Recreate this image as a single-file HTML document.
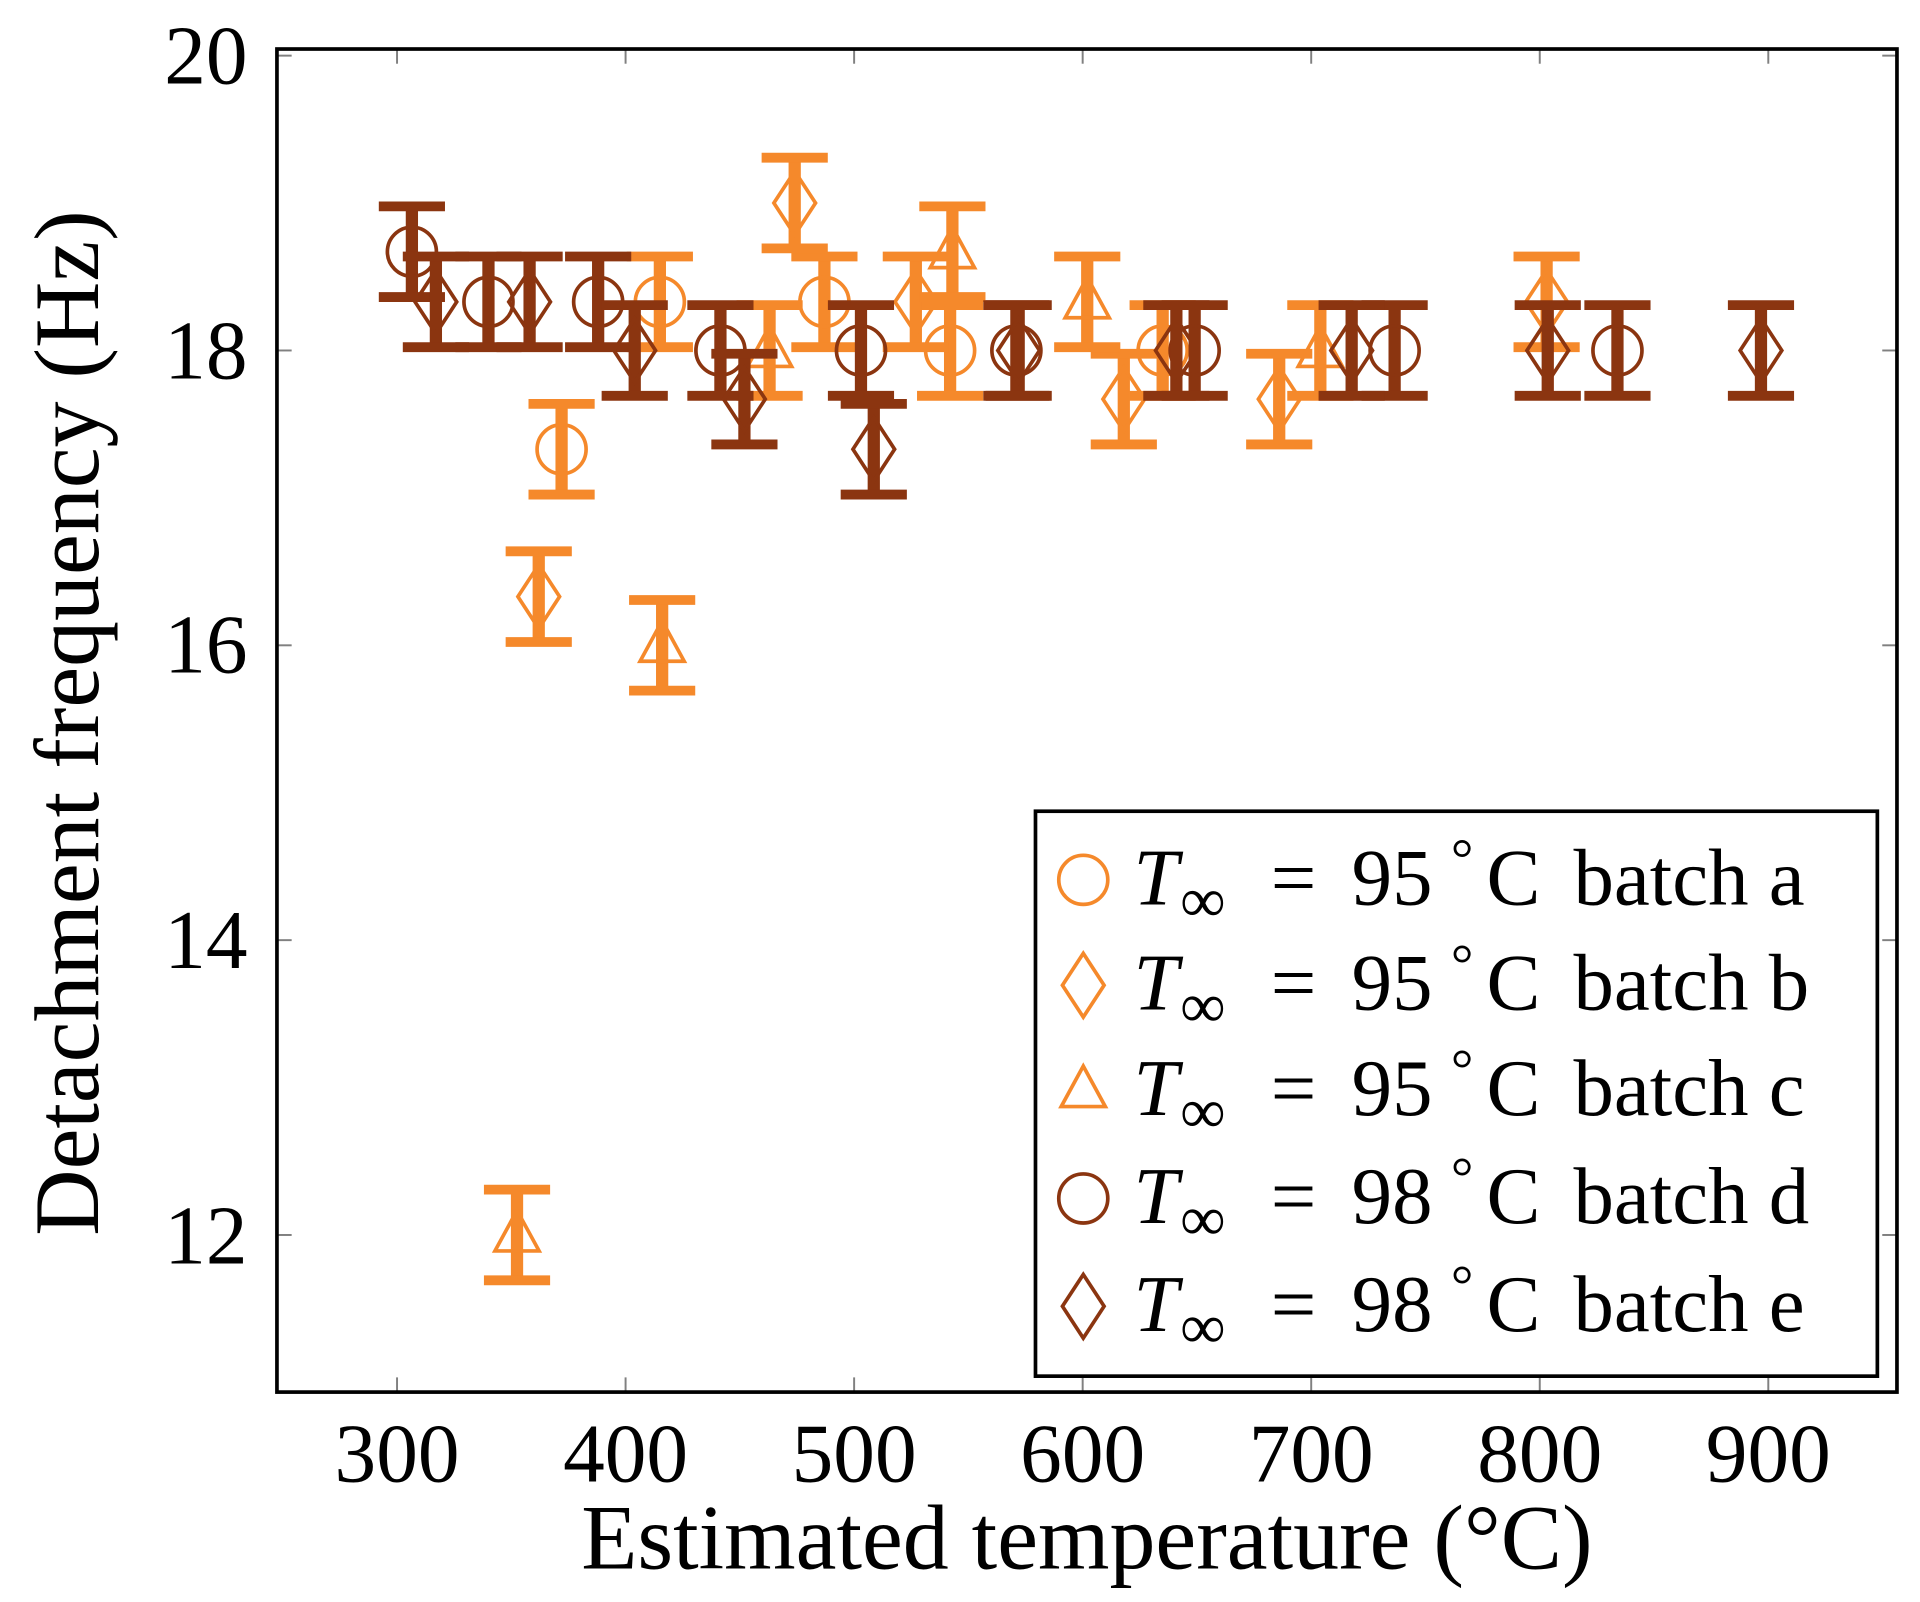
<!DOCTYPE html>
<html><head><meta charset="utf-8"><style>
html,body{margin:0;padding:0;background:#fff}
svg{display:block}
text{font-family:"Liberation Serif",serif;fill:#000}
</style></head><body>
<svg id="s" width="1920" height="1602" viewBox="0 0 1566.8 1307.3" preserveAspectRatio="none" xmlns="http://www.w3.org/2000/svg">
<rect x="0" y="0" width="1566.8" height="1307.3" fill="#fff"/>
<g stroke="#808080" stroke-width="1.6">
<line x1="324" y1="40" x2="324" y2="52"/><line x1="324" y1="1136" x2="324" y2="1124"/>
<line x1="510.5" y1="40" x2="510.5" y2="52"/><line x1="510.5" y1="1136" x2="510.5" y2="1124"/>
<line x1="697" y1="40" x2="697" y2="52"/><line x1="697" y1="1136" x2="697" y2="1124"/>
<line x1="883.5" y1="40" x2="883.5" y2="52"/><line x1="883.5" y1="1136" x2="883.5" y2="1124"/>
<line x1="1070" y1="40" x2="1070" y2="52"/><line x1="1070" y1="1136" x2="1070" y2="1124"/>
<line x1="1256.5" y1="40" x2="1256.5" y2="52"/><line x1="1256.5" y1="1136" x2="1256.5" y2="1124"/>
<line x1="1443" y1="40" x2="1443" y2="52"/><line x1="1443" y1="1136" x2="1443" y2="1124"/>
<line x1="226" y1="45.4" x2="238" y2="45.4"/><line x1="1548" y1="45.4" x2="1536" y2="45.4"/>
<line x1="226" y1="286" x2="238" y2="286"/><line x1="1548" y1="286" x2="1536" y2="286"/>
<line x1="226" y1="526.6" x2="238" y2="526.6"/><line x1="1548" y1="526.6" x2="1536" y2="526.6"/>
<line x1="226" y1="767.2" x2="238" y2="767.2"/><line x1="1548" y1="767.2" x2="1536" y2="767.2"/>
<line x1="226" y1="1007.8" x2="238" y2="1007.8"/><line x1="1548" y1="1007.8" x2="1536" y2="1007.8"/>
</g>
<g id="data"></g>
<rect x="226" y="40" width="1322" height="1096" fill="none" stroke="#000" stroke-width="3"/>
<g font-size="68" text-anchor="end">
<text x="202" y="68">20</text><text x="202" y="309">18</text><text x="202" y="549">16</text><text x="202" y="790">14</text><text x="202" y="1031">12</text>
</g>
<g font-size="68" text-anchor="middle">
<text x="324" y="1209">300</text><text x="510.5" y="1209">400</text><text x="697" y="1209">500</text><text x="883.5" y="1209">600</text><text x="1070" y="1209">700</text><text x="1256.5" y="1209">800</text><text x="1443" y="1209">900</text>
</g>
<text x="887" y="1280" font-size="75" text-anchor="middle">Estimated temperature (°C)</text>
<text transform="translate(80,590) rotate(-90)" font-size="75" text-anchor="middle">Detachment frequency (Hz)</text>
<rect x="845" y="662" width="687" height="461" fill="#fff" stroke="#000" stroke-width="3"/>
<g id="leg"></g>
<g font-size="66" id="lt"></g>
</svg>
<script>
var O="#F5892B",B="#8B3510",NS="http://www.w3.org/2000/svg";
function X(t){return 324+(t-300)*1.865}function Y(f){return 286-(f-18)*120.3}
function el(p,n,a){var e=document.createElementNS(NS,n);for(var k in a)e.setAttribute(k,a[k]);p.appendChild(e);return e}
function mk(p,type,x,y,c){
 if(type=="o")el(p,"circle",{cx:x,cy:y,r:20,fill:"none",stroke:c,"stroke-width":3});
 else if(type=="d")el(p,"polygon",{points:(x-17)+","+y+" "+x+","+(y-26)+" "+(x+17)+","+y+" "+x+","+(y+26),fill:"none",stroke:c,"stroke-width":3});
 else el(p,"polygon",{points:(x-18)+","+(y+13)+" "+x+","+(y-20)+" "+(x+18)+","+(y+13),fill:"none",stroke:c,"stroke-width":3});
}
var S=[
 [O,"o",[[372,17.33],[415,18.33],[487,18.33],[542,18],[635,18]]],
 [O,"d",[[362,16.33],[474,19],[527,18.33],[618,17.67],[686,17.67],[803,18.33]]],
 [O,"t",[[352.5,12],[416,16],[463,18],[543,18.67],[602,18.33],[704,18]]],
 [B,"o",[[306.5,18.67],[340,18.33],[388,18.33],[441.5,18],[503,18],[571,18],[649,18],[736.5,18],[834,18]]],
 [B,"d",[[317,18.33],[358,18.33],[404,18],[452,17.67],[508.6,17.33],[572,18],[641,18],[717.7,18],[803.5,18],[896.8,18]]]
];
var g=document.getElementById("data");
S.forEach(function(s){s[2].forEach(function(p){var x=X(p[0]),y=Y(p[1]),h=37;
 el(g,"line",{x1:x,y1:y-h,x2:x,y2:y+h,stroke:s[0],"stroke-width":10});
 el(g,"line",{x1:x-27,y1:y-h,x2:x+27,y2:y-h,stroke:s[0],"stroke-width":8});
 el(g,"line",{x1:x-27,y1:y+h,x2:x+27,y2:y+h,stroke:s[0],"stroke-width":8});
 mk(g,s[1],x,y,s[0]);});});
var l=document.getElementById("leg");
mk(l,"o",884,718,O);mk(l,"d",884,804,O);mk(l,"t",884,890,O);mk(l,"o",884,978,B);mk(l,"d",884,1066,B);
var lt=document.getElementById("lt");
var L=[[738,"95","a"],[824,"95","b"],[910,"95","c"],[998,"98","d"],[1086,"98","e"]];
L.forEach(function(r){var y=r[0];
 var t=el(lt,"text",{x:925,y:y,"font-style":"italic"});t.textContent="T";
 t=el(lt,"text",{x:963,y:y+14,"font-size":52});t.textContent="∞";
 t=el(lt,"text",{x:1037,y:y});t.textContent="=";
 t=el(lt,"text",{x:1103,y:y});t.textContent=r[1];
 t=el(lt,"text",{x:1184,y:y-22,"font-size":46});t.textContent="°";
 t=el(lt,"text",{x:1213,y:y});t.textContent="C";
 t=el(lt,"text",{x:1284,y:y});t.textContent="batch "+r[2];
});
</script>
</body></html>
